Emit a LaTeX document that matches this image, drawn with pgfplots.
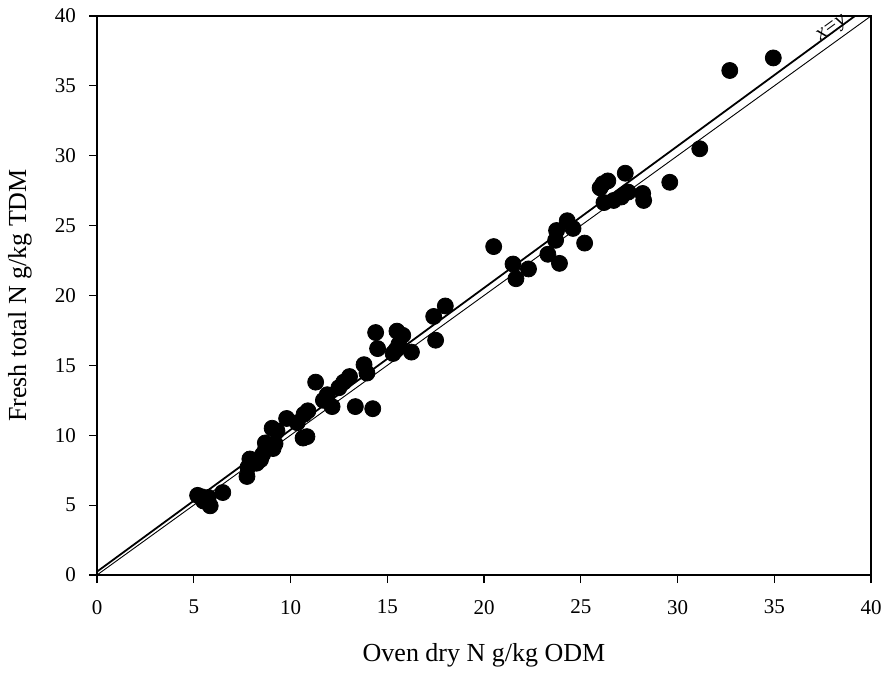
\documentclass[border=0pt]{standalone}
\usepackage{pgfplots}
\pgfplotsset{compat=1.18}
\usepackage{fontspec}
\setmainfont{Liberation Serif}
\begin{document}
\begin{tikzpicture}[x=1pt,y=1pt]
\useasboundingbox (-48.5pt,-49pt) rectangle (394.5pt,287.5pt);
\begin{axis}[
  at={(0,0)}, anchor=south west,
  scale only axis,
  width=387pt, height=279.5pt,
  xmin=0, xmax=40, ymin=0, ymax=40,
  xtick={0,5,...,40}, ytick={0,5,...,40},
  tick align=outside,
  xtick pos=bottom, ytick pos=left,
  major tick length=4pt,
  tick style={black, line width=0.6pt},
  axis line style={line width=0.7pt},
  /pgf/number format/assume math mode=true,
  ticklabel style={font=\fontsize{10.5}{12}\selectfont},
  yticklabel style={xshift=-3pt},
  xticklabel style={yshift=-5pt},
  xlabel={Oven dry N g/kg ODM},
  ylabel={Fresh total N g/kg TDM},
  every axis x label/.style={at={(axis description cs:0.5,-0.1431)}, anchor=center, font=\fontsize{13}{15}\selectfont},
  every axis y label/.style={at={(axis description cs:-0.0995,0.5)}, anchor=center, rotate=90, font=\fontsize{13}{15}\selectfont},
  clip=false,
]
\addplot[black, line width=0.9pt, no marks] coordinates {(0,0.24) (39.17,40)};
\addplot[black, line width=0.45pt, no marks] coordinates {(0,0) (40,40)};
\addplot[only marks, mark=*, mark size=4pt, black] coordinates {
(5.2,5.7) (5.4,5.6) (5.75,5.55) (5.85,4.95) (5.5,5.3) (6.5,5.9)
(7.75,7.05) (7.8,7.7) (7.9,8.3) (8.25,8.0) (8.45,8.25) (8.55,8.6)
(8.7,8.95) (8.7,9.45) (9.1,9.05) (9.2,9.4) (9.05,10.5) (9.3,10.3)
(9.8,11.2) (10.35,10.9) (10.65,9.8) (10.85,9.9) (10.7,11.5) (10.9,11.75)
(11.3,13.8) (11.7,12.5) (11.9,12.9) (12.15,12.05) (12.5,13.4) (12.75,13.8)
(13.05,14.2) (13.35,12.05) (13.8,15.05) (13.95,14.45) (14.25,11.9)
(14.4,17.35) (14.5,16.2) (15.3,15.85) (15.5,17.45) (15.6,16.5) (15.8,17.15)
(15.45,16.1) (16.25,15.95) (17.4,18.5) (18.0,19.25) (17.5,16.8)
(20.5,23.5) (21.5,22.25) (21.65,21.2) (22.3,21.9) (23.3,22.95) (23.9,22.3)
(23.7,23.95) (23.75,24.65) (24.3,25.35) (24.6,24.8) (25.2,23.75)
(26.0,27.7) (26.15,28.0) (26.4,28.2) (26.2,26.65) (26.7,26.8) (27.1,27.05)
(27.45,27.4) (27.3,28.75) (28.2,27.3) (28.25,26.8) (29.6,28.1)
(31.15,30.5) (32.7,36.1) (34.95,37.0)
};
\node[rotate=36, font=\fontsize{10.5}{12}\selectfont\itshape, inner sep=0pt] at (axis cs:38.0,39.05) {x=y};
\end{axis}
\end{tikzpicture}
\end{document}
